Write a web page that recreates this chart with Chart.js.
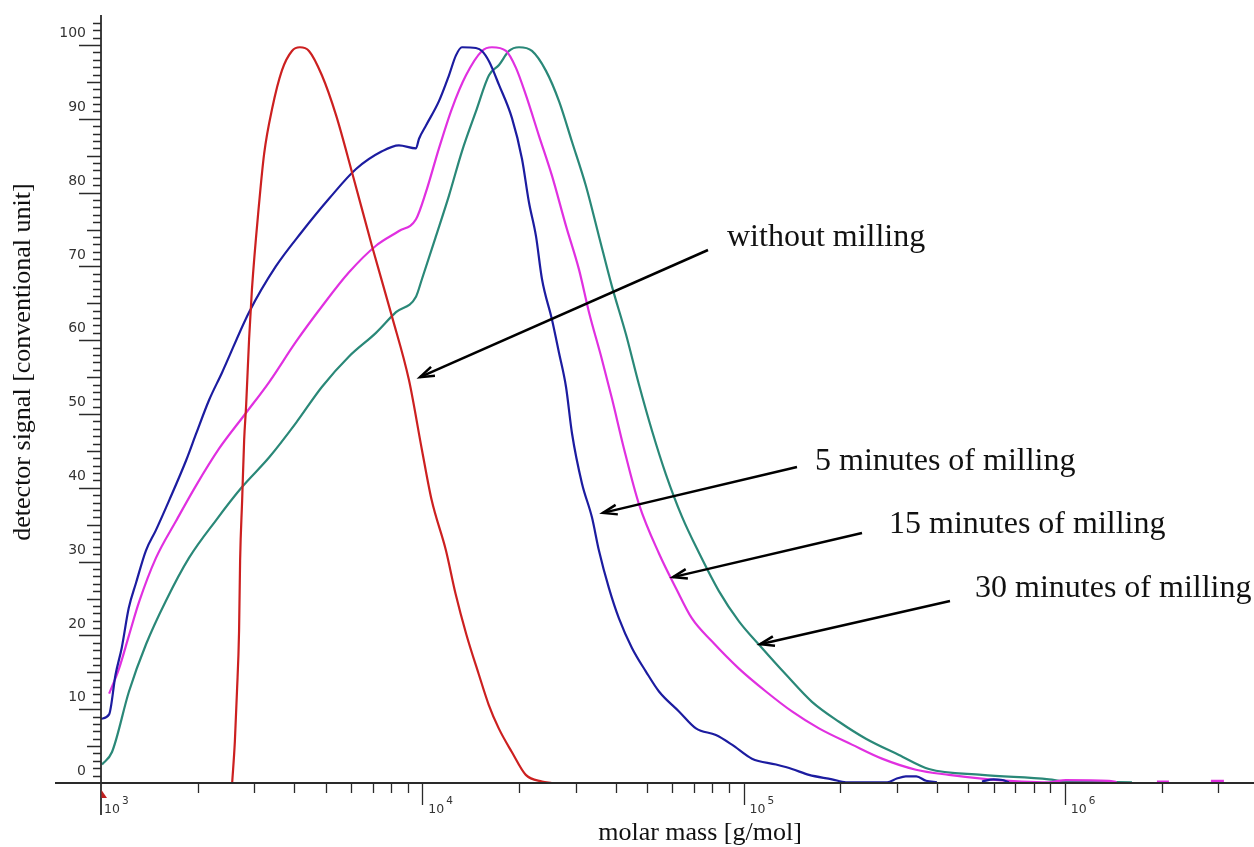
<!DOCTYPE html>
<html>
<head>
<meta charset="utf-8">
<title>Molar mass distribution after milling</title>
<script src="https://cdn.jsdelivr.net/npm/chart.js@4.4.1/dist/chart.umd.min.js"></script>
<style>
  html, body { margin: 0; padding: 0; background: #fff; }
  #chart { display: block; }
</style>
</head>
<body>
<canvas id="chart" width="1254" height="847"></canvas>
<script>
/*------ data: molar mass [g/mol] / detector signal ------*/
const massNoMill = [2560, 2610, 2650, 2690, 2710, 2750, 2790, 2830, 2890, 2950, 3100, 3220, 3410, 3660, 3930, 4160,
  4440, 4870, 5390, 6040, 6970, 8050, 9090, 9980, 10700, 11850, 12700, 13700, 15000, 16100, 17300, 19000, 21000, 23600, 25300];
const signalNoMill = [0, 5.6, 12.4, 20.6, 30.1, 38.3, 46.5, 51.2, 60.1, 66.9, 78.2, 85.3, 91.4, 96.6, 99.2, 99.7,
  99.2, 95.9, 90.5, 82.8, 72.8, 63.2, 54.6, 45.1, 38.3, 31.5, 25.6, 20.2, 14.7, 10.6, 7.4, 4.2, 1.1, 0.2, 0];

const mass5min = [1000, 1060, 1110, 1160, 1220, 1285, 1380, 1480, 1630, 1840, 1980, 2170, 2380, 2890, 3500, 4220,
  5130, 6220, 7490, 8460, 9560, 9770, 10270, 11270, 12110, 12730, 13290, 14690, 15340, 16130, 17330, 19020,
  20430, 21480, 22590, 23580, 25330, 26640, 28010, 29240, 31410, 33740, 35470, 38110, 40940, 44940, 49680,
  54550, 62950, 71100, 82030, 92010, 106200, 126200, 141500, 159800, 188500, 208400, 280000, 300000, 320000,
  345000, 370000, 400000, 470000, 552000, 600000, 640000, 670000];
const signal5min = [8.7, 9.3, 14.7, 18.3, 23.7, 27.1, 31.5, 34.2, 38.3, 43.7, 47.4, 51.9, 55.6, 63.8, 70.0, 74.7,
  79.2, 83.2, 85.6, 86.4, 86.0, 87.3, 89.1, 92.4, 95.9, 98.6, 99.7, 99.6, 99.2, 97.8, 94.6, 90.1,
  84.6, 78.7, 74.1, 68.3, 62.8, 58.3, 53.7, 47.4, 40.6, 36.0, 31.5, 26.4, 22.3, 18.3, 15.1,
  12.4, 9.7, 7.4, 6.5, 5.2, 3.3, 2.5, 1.9, 1.1, 0.5, 0.1, 0.1, 0.6, 0.9,
  0.9, 0.3, 0.1, null, 0.2, 0.5, 0.4, 0.1];

const mass15min = [1060, 1138, 1222, 1313, 1483, 1712, 1976, 2330, 2787, 3334, 4046, 4875, 5914, 7176, 8462, 9559,
  10270, 11270, 12370, 13680, 15340, 16480, 18220, 19570, 21020, 23080, 25330, 28010, 30740, 33030, 36240,
  38940, 42450, 47250, 54550, 61610, 69090, 79710, 96750, 117400, 141500, 171700, 217500, 269600, 344000,
  435900, 580600, 735400, 892300, 1008000, 1372000, 1450000, 1700000, 1935000, 2109000, 2500000, 2849000, 3127000];
const signal15min = [12.1, 15.5, 20.0, 24.5, 30.5, 35.5, 40.3, 45.3, 49.8, 54.3, 59.8, 64.6, 69.2, 72.8, 74.8, 76.4,
  80.1, 86.0, 91.4, 95.9, 99.2, 99.7, 99.2, 96.9, 93.2, 87.7, 82.3, 75.5, 69.6, 63.8, 57.4,
  52.1, 45.3, 37.8, 31.1, 26.4, 22.3, 19.2, 15.5, 12.4, 9.7, 7.4, 5.2, 3.3, 1.8,
  1.1, 0.5, 0.2, 0.1, 0.4, 0.3, 0.1, null, 0.2, 0.2, null, 0.3, 0.3];

const mass30min = [1007, 1082, 1222, 1381, 1593, 1879, 2280, 2747, 3334, 4046, 4875, 5914, 7176, 8282, 9559, 9979,
  11030, 12110, 13290, 14690, 16130, 17330, 18620, 20000, 21950, 24270, 26640, 29240, 32320, 35470, 38940,
  43050, 47250, 52000, 57350, 64310, 72650, 83810, 96750, 114100, 135500, 163300, 198200, 240400, 304600,
  377600, 552200, 892300, 1008000, 1618000];
const signal30min = [2.5, 4.2, 12.4, 18.8, 24.7, 30.5, 35.6, 40.1, 44.1, 48.8, 53.7, 57.8, 61.0, 63.8, 65.9, 68.3,
  74.1, 79.6, 85.6, 91.0, 95.9, 97.3, 99.2, 99.7, 99.2, 96.5, 92.4, 86.9, 80.9, 74.1, 67.3,
  60.8, 54.0, 47.6, 41.8, 36.1, 31.2, 26.0, 21.9, 18.3, 14.7, 11.0, 8.3, 6.0, 3.8,
  1.9, 1.1, 0.5, 0.2, 0.1];

const seriesNames = ['without milling', '5 minutes of milling', '15 minutes of milling', '30 minutes of milling'];
const seriesColors = ['#cc2020', '#1c1ca0', '#e030e0', '#2a8878'];

// axis ticks
const yTickLabels = [0, 10, 20, 30, 40, 50, 60, 70, 80, 90, 100];
const xDecades = [1e3, 1e4, 1e5, 1e6];
const xExponents = ['3', '4', '5', '6'];

// arrow tips sit on the curves (mass, signal)
const arrowTipMass = [9840, 36500, 60300, 112600];
const arrowTipSignal = [55.0, 36.6, 27.9, 18.8];

const xMin = 1000, xMax = 3.88e6, yMin = 0, yMax = 103.8;

function toPoints(mass, signal) {
    return mass.map(function (m, i) { return { x: m, y: signal[i] }; });
}

/*------ annotation layout (pixels) ------*/
const labelPos = [[727, 246], [815, 470], [889, 533], [975, 597]];
const arrowTail = [[708, 250], [797, 467], [862, 533], [950, 601]];

function arrow(ctx, x1, y1, x2, y2) {
    const a = Math.atan2(y2 - y1, x2 - x1);
    const L = 15, w = 0.33;
    ctx.beginPath();
    ctx.moveTo(x1, y1);
    ctx.lineTo(x2, y2);
    ctx.stroke();
    ctx.beginPath();
    ctx.moveTo(x2 - L * Math.cos(a - w), y2 - L * Math.sin(a - w));
    ctx.lineTo(x2, y2);
    ctx.lineTo(x2 - L * Math.cos(a + w), y2 - L * Math.sin(a + w));
    ctx.stroke();
}

const axesPlugin = {
    id: 'gpcAxes',
    afterDraw(chart) {
        const ctx = chart.ctx;
        const xs = chart.scales.x, ys = chart.scales.y;
        const x0 = xs.getPixelForValue(xMin);
        const y0 = ys.getPixelForValue(0);
        ctx.save();

        // axis lines (crossing style)
        ctx.strokeStyle = '#2a2a2a';
        ctx.lineWidth = 1.8;
        ctx.beginPath();
        ctx.moveTo(55, y0); ctx.lineTo(chart.width, y0);
        ctx.moveTo(x0, ys.top - 2); ctx.lineTo(x0, 815);
        ctx.stroke();

        // y ticks every unit, longer at 5 and 10
        ctx.lineWidth = 1.3;
        ctx.beginPath();
        for (let v = 1; v <= Math.floor(yMax); v++) {
            const py = Math.round(ys.getPixelForValue(v)) + 0.5;
            const len = v % 10 === 0 ? 22 : (v % 5 === 0 ? 14 : 8);
            ctx.moveTo(x0 - len, py); ctx.lineTo(x0, py);
        }
        ctx.stroke();

        // x ticks: decades long, 2..9 short
        ctx.beginPath();
        for (let e = 3; e <= 6; e++) {
            for (let k = 1; k <= 9; k++) {
                const v = k * Math.pow(10, e);
                if (v > xMax) break;
                if (v === xMin) continue;
                const px = Math.round(xs.getPixelForValue(v)) + 0.5;
                ctx.moveTo(px, y0); ctx.lineTo(px, y0 + (k === 1 ? 22 : 10));
            }
        }
        ctx.stroke();

        // y tick labels
        ctx.fillStyle = '#333';
        ctx.font = '14px "DejaVu Sans"';
        ctx.textAlign = 'right';
        ctx.textBaseline = 'middle';
        yTickLabels.forEach(function (v) {
            ctx.fillText(String(v), 86, ys.getPixelForValue(v) - 11.5);
        });

        // x tick labels 10^n
        ctx.textAlign = 'left';
        ctx.textBaseline = 'alphabetic';
        xDecades.forEach(function (v, i) {
            const px = xs.getPixelForValue(v) + (i === 0 ? 3 : 6);
            ctx.font = '12.5px "DejaVu Sans"';
            ctx.fillText('10', px, 813);
            const w = ctx.measureText('10').width;
            ctx.font = '10.5px "DejaVu Sans"';
            ctx.fillText(xExponents[i], px + w + 2, 804);
        });

        // small red start marker
        ctx.fillStyle = '#c02020';
        ctx.beginPath();
        ctx.moveTo(x0 + 0.5, 790); ctx.lineTo(x0 + 6, 798); ctx.lineTo(x0 + 0.5, 798);
        ctx.closePath(); ctx.fill();

        // axis titles
        ctx.fillStyle = '#111';
        ctx.font = '26px "Liberation Serif"';
        ctx.textAlign = 'center';
        ctx.fillText('molar mass [g/mol]', 700, 840);
        ctx.save();
        ctx.translate(30, 362);
        ctx.rotate(-Math.PI / 2);
        ctx.fillText('detector signal [conventional unit]', 0, 0);
        ctx.restore();

        // curve labels with arrows
        ctx.font = '32px "Liberation Serif"';
        ctx.textAlign = 'left';
        ctx.strokeStyle = '#000';
        ctx.lineWidth = 2.5;
        seriesNames.forEach(function (name, i) {
            ctx.fillText(name, labelPos[i][0], labelPos[i][1]);
            const tx = xs.getPixelForValue(arrowTipMass[i]);
            const ty = ys.getPixelForValue(arrowTipSignal[i]);
            arrow(ctx, arrowTail[i][0], arrowTail[i][1], tx, ty);
        });
        ctx.restore();
    }
};

const ctx1 = document.getElementById('chart').getContext('2d');
const gpcChart = new Chart(ctx1, {
    type: 'line',
    data: {
        datasets: [
            { label: seriesNames[0], data: toPoints(massNoMill, signalNoMill), borderColor: seriesColors[0] },
            { label: seriesNames[1], data: toPoints(mass5min, signal5min), borderColor: seriesColors[1] },
            { label: seriesNames[2], data: toPoints(mass15min, signal15min), borderColor: seriesColors[2] },
            { label: seriesNames[3], data: toPoints(mass30min, signal30min), borderColor: seriesColors[3] }
        ]
    },
    options: {
        responsive: false,
        animation: false,
        devicePixelRatio: 1,
        layout: { padding: { left: 101, top: 17, right: 0, bottom: 64 } },
        datasets: {
            line: { borderWidth: 2.2, pointRadius: 0, cubicInterpolationMode: 'monotone', spanGaps: false, clip: 4, fill: false }
        },
        scales: {
            x: { type: 'logarithmic', min: xMin, max: xMax, display: false },
            y: { type: 'linear', min: yMin, max: yMax, display: false }
        },
        plugins: {
            legend: { display: false },
            tooltip: { enabled: false }
        }
    },
    plugins: [axesPlugin]
});
</script>
</body>
</html>
